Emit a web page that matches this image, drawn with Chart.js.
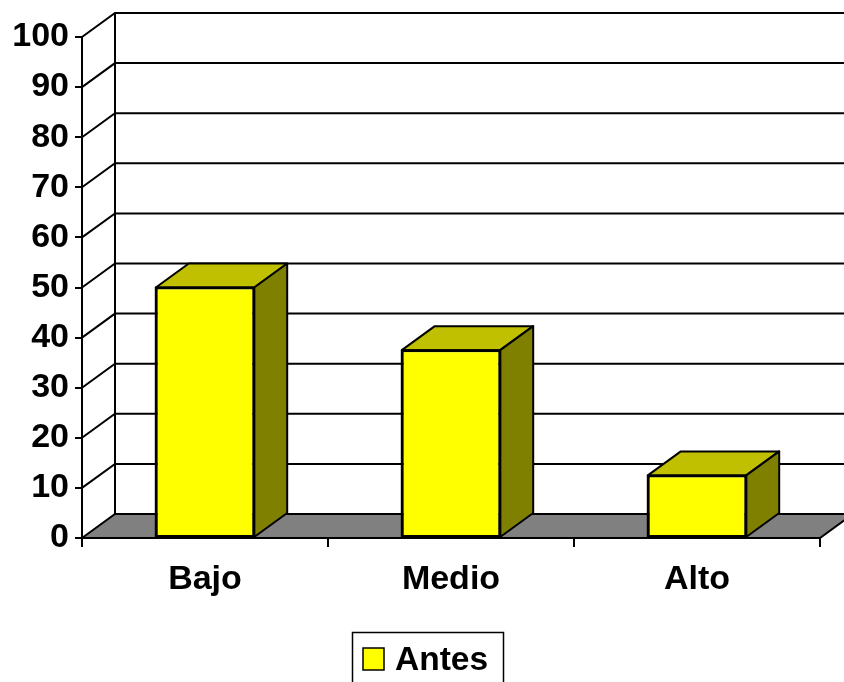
<!DOCTYPE html>
<html>
<head>
<meta charset="utf-8">
<script src="https://cdn.jsdelivr.net/npm/chart.js@4/dist/chart.umd.min.js"></script>
<style>
  html, body { margin: 0; padding: 0; background: #fff; }
  #wrap { width: 844px; height: 682px; }
</style>
</head>
<body>
<div id="wrap"><canvas id="grafico"></canvas></div>
<script>
// Datos
const categorias = ['Bajo', 'Medio', 'Alto'];
const serieNombre = 'Antes';
const valoresAntes = [50, 37.5, 12.5];
const ticksY = [0, 10, 20, 30, 40, 50, 60, 70, 80, 90, 100];

// Profundidad del efecto 3D
const PROF_X = 33;
const PROF_Y = -24;
const FUENTE = 'Liberation Sans, Arial, sans-serif';

function poligono(ctx, pts, relleno) {
  ctx.beginPath();
  ctx.moveTo(pts[0][0], pts[0][1]);
  for (let i = 1; i < pts.length; i++) ctx.lineTo(pts[i][0], pts[i][1]);
  ctx.closePath();
  if (relleno) {
    ctx.fillStyle = relleno;
    ctx.fill();
  }
  ctx.stroke();
}

// Plugin: paredes, suelo, caras 3D de las barras y leyenda
const efecto3D = {
  id: 'efecto3D',
  beforeDatasetsDraw(chart) {
    const { ctx, chartArea, scales } = chart;
    const y = scales.y;
    const izq = chartArea.left, der = chartArea.right;
    const base = y.getPixelForValue(0);
    ctx.save();
    ctx.strokeStyle = '#000';
    ctx.lineWidth = 2;
    // lineas de la pared trasera y lateral
    ticksY.forEach(v => {
      if (v === 0) return;
      const py = y.getPixelForValue(v);
      ctx.beginPath();
      ctx.moveTo(izq, py);
      ctx.lineTo(izq + PROF_X, py + PROF_Y);
      ctx.lineTo(der + PROF_X + 40, py + PROF_Y);
      ctx.stroke();
    });
    // borde vertical trasero
    ctx.beginPath();
    ctx.moveTo(izq + PROF_X, y.getPixelForValue(100) + PROF_Y);
    ctx.lineTo(izq + PROF_X, base + PROF_Y);
    ctx.stroke();
    // suelo
    poligono(ctx, [
      [izq, base], [izq + PROF_X, base + PROF_Y],
      [der + PROF_X, base + PROF_Y], [der, base]
    ], '#808080');
    ctx.restore();
  },
  afterDatasetsDraw(chart) {
    const { ctx } = chart;
    const meta = chart.getDatasetMeta(0);
    ctx.save();
    ctx.strokeStyle = '#000';
    ctx.lineWidth = 2;
    ctx.lineJoin = 'round';
    meta.data.forEach(bar => {
      const p = bar.getProps(['x', 'y', 'base', 'width'], true);
      const l = p.x - p.width / 2, r = p.x + p.width / 2;
      // cara superior
      poligono(ctx, [
        [l, p.y], [l + PROF_X, p.y + PROF_Y],
        [r + PROF_X, p.y + PROF_Y], [r, p.y]
      ], '#C0C000');
      // cara lateral
      poligono(ctx, [
        [r, p.y], [r + PROF_X, p.y + PROF_Y],
        [r + PROF_X, p.base + PROF_Y], [r, p.base]
      ], '#808000');
      // frente otra vez para el contorno
      ctx.strokeRect(l, p.y, p.width, p.base - p.y);
    });
    ctx.restore();
  },
  afterDraw(chart) {
    const { ctx } = chart;
    const ds = chart.data.datasets[0];
    ctx.save();
    // caja de la leyenda
    ctx.strokeStyle = '#000';
    ctx.lineWidth = 1.5;
    ctx.strokeRect(352.5, 632.5, 151, 60);
    ctx.fillStyle = ds.backgroundColor;
    ctx.fillRect(363, 648, 21, 22);
    ctx.lineWidth = 1.5;
    ctx.strokeRect(363, 648, 21, 22);
    ctx.fillStyle = '#000';
    ctx.font = 'bold 33.5px ' + FUENTE;
    ctx.textBaseline = 'alphabetic';
    ctx.textAlign = 'left';
    ctx.fillText(ds.label, 395, 670);
    ctx.restore();
  }
};

new Chart(document.getElementById('grafico'), {
  type: 'bar',
  data: {
    labels: categorias,
    datasets: [{
      label: serieNombre,
      data: valoresAntes,
      backgroundColor: '#FFFF00',
      borderColor: '#000',
      borderWidth: 2,
      borderSkipped: false,
      barPercentage: 0.4,
      categoryPercentage: 1.0
    }]
  },
  options: {
    responsive: true,
    maintainAspectRatio: false,
    animation: false,
    layout: { padding: { top: 37, right: 24, bottom: 0, left: 0 } },
    plugins: {
      legend: { display: false },
      tooltip: { enabled: false }
    },
    scales: {
      x: {
        offset: true,
        grid: {
          offset: true,
          drawOnChartArea: false,
          drawTicks: true,
          tickLength: 9,
          color: '#000',
          lineWidth: 2
        },
        border: { display: true, color: '#000', width: 2 },
        ticks: {
          color: '#000',
          padding: 12,
          font: { family: FUENTE, size: 34, weight: 'bold' }
        },
        afterFit(scale) { scale.height = 144; }
      },
      y: {
        min: 0,
        max: 100,
        grid: {
          drawOnChartArea: false,
          drawTicks: true,
          tickLength: 7,
          color: '#000',
          lineWidth: 2
        },
        border: { display: true, color: '#000', width: 2 },
        ticks: {
          stepSize: 10,
          color: '#000',
          padding: 6,
          font: { family: FUENTE, size: 34, weight: 'bold' }
        },
        afterFit(scale) { scale.width = 82; }
      }
    }
  },
  plugins: [efecto3D]
});
</script>
</body>
</html>
